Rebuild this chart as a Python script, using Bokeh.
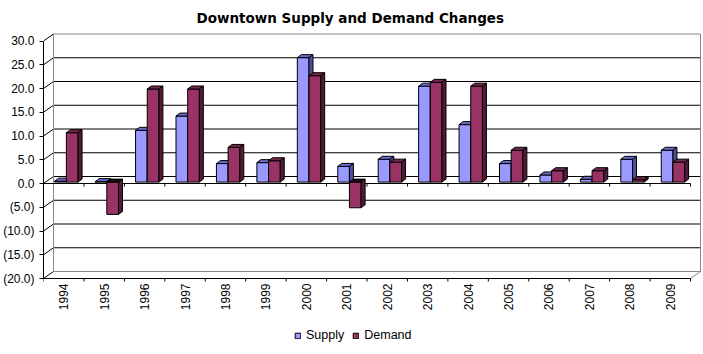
import math
from bokeh.plotting import figure
from bokeh.models import (FixedTicker, CustomJSTickFormatter, Range1d, Legend,
                          LegendItem, ColumnDataSource)
from bokeh.core.properties import value
from bokeh.embed import file_html
from bokeh.resources import INLINE

# ---------------- data ----------------
YEARS = ["1994", "1995", "1996", "1997", "1998", "1999", "2000", "2001",
         "2002", "2003", "2004", "2005", "2006", "2007", "2008", "2009"]
SUPPLY = [0.2, 0.1, 10.9, 13.9, 3.9, 4.1, 26.2, 3.3,
          4.8, 20.2, 12.1, 3.9, 1.5, 0.6, 4.8, 6.7]
DEMAND = [10.4, -6.8, 19.6, 19.6, 7.3, 4.5, 22.4, -5.4,
          4.2, 21.0, 20.2, 6.7, 2.4, 2.4, 0.5, 4.2]
Y_TICKS = [-20, -15, -10, -5, 0, 5, 10, 15, 20, 25, 30]
TITLE = "Downtown Supply and Demand Changes"

# ---------------- geometry (pixel-derived styling constants) ----------------
W, H = 703, 354
BORDER_L, BORDER_R, BORDER_T, BORDER_B = 42, 2, 32, 2
FRAME_W = W - BORDER_L - BORDER_R
FRAME_H = H - BORDER_T - BORDER_B
FLOOR_PX = 278 - BORDER_T          # pixel offset of the floor (-20) below frame top
PX_X = 40.5          # pixels per category
PX_Y = 4.75          # pixels per value unit
N = len(YEARS)
Y0, Y1 = -20, 30
X_END = FRAME_W / PX_X
Y_END = Y0 + FLOOR_PX / PX_Y
Y_START = Y_END - FRAME_H / PX_Y

WDX, WDY = 10 / PX_X, 7 / PX_Y      # depth of the back wall
BDX, BDY = 4 / PX_X, 3 / PX_Y       # depth of a bar
FDY = 1.4 / PX_Y                    # bar front-face base shift
BAR_W = 11.7 / PX_X
BAR_OFF = 11.2 / PX_X
TICK = 3 / PX_Y

SUP_COL = ("#9999FF", "#6B6BCF", "#4F4FA0")   # front, top, side
DEM_COL = ("#993366", "#75284F", "#521A37")
NEG_TOP = "#1E0A14"
font = "Liberation Sans"

p = figure(width=W, height=H, output_backend="svg", toolbar_location=None,
           tools="", x_range=Range1d(0, X_END),
           y_range=Range1d(Y_START, Y_END),
           min_border_left=BORDER_L, min_border_right=BORDER_R,
           min_border_top=BORDER_T, min_border_bottom=BORDER_B,
           title=TITLE)
p.outline_line_color = None
p.xgrid.visible = False
p.ygrid.visible = False
p.xaxis.visible = False
p.background_fill_color = "white"
p.border_fill_color = "white"

p.title.text_font = "DejaVu Sans"
p.title.text_font_size = "13.5px"
p.title.text_font_style = "bold"
p.title.text_color = "black"
p.title.align = "left"
p.title.offset = 153
p.title.standoff = 14

# ---------------- walls ----------------
grid_vals = [v for v in Y_TICKS if Y0 < v < Y1]
p.segment(x0=[WDX] * len(grid_vals), x1=[N + WDX] * len(grid_vals),
          y0=[v + WDY for v in grid_vals], y1=[v + WDY for v in grid_vals],
          line_color="black", line_width=1)
p.segment(x0=[0] * len(Y_TICKS), x1=[WDX] * len(Y_TICKS),
          y0=Y_TICKS, y1=[v + WDY for v in Y_TICKS],
          line_color="black", line_width=1)
gray = "#888888"
p.segment(x0=[WDX, WDX, WDX, N + WDX, N],
          x1=[N + WDX, N + WDX, WDX, N + WDX, N + WDX],
          y0=[Y1 + WDY, Y0 + WDY, Y0 + WDY, Y0 + WDY, Y0],
          y1=[Y1 + WDY, Y0 + WDY, Y1 + WDY, Y1 + WDY, Y0 + WDY],
          line_color=gray, line_width=1)

# zero line and floor line, each with category ticks
cats = list(range(N + 1))
for base in (0, Y0):
    p.segment(x0=[0], x1=[N], y0=[base], y1=[base],
              line_color="black", line_width=1)
    p.segment(x0=cats, x1=cats, y0=[base] * len(cats),
              y1=[base - TICK] * len(cats), line_color="black", line_width=1)

# category labels (rotated, reading upward)
p.text(x=[i + 0.5 for i in range(N)], y=[Y0 - 5 / PX_Y] * N, text=YEARS,
       angle=math.pi / 2, text_align="right", text_baseline="middle",
       text_font=value(font), text_font_size="12px", text_color="black")


# ---------------- 3D bars ----------------
def draw_bars(vals, off, cols):
    left = [i + off for i in range(N)]
    right = [l + BAR_W for l in left]
    bottom = [min(FDY, v + FDY) for v in vals]
    top = [max(FDY, v + FDY) for v in vals]
    top_cols = [cols[1] if v >= 0 else NEG_TOP for v in vals]
    src_top = ColumnDataSource(dict(
        xs=[[l, r, r + BDX, l + BDX] for l, r in zip(left, right)],
        ys=[[t, t, t + BDY, t + BDY] for t in top],
        c=top_cols))
    src_side = ColumnDataSource(dict(
        xs=[[r, r + BDX, r + BDX, r] for r in right],
        ys=[[b, b + BDY, t + BDY, t] for b, t in zip(bottom, top)]))
    front = p.quad(left=left, right=right, bottom=bottom, top=top,
                   fill_color=cols[0], line_color="black", line_width=1)
    p.patches(xs="xs", ys="ys", source=src_top, fill_color="c",
              line_color="black", line_width=1)
    p.patches(xs="xs", ys="ys", source=src_side, fill_color=cols[2],
              line_color="black", line_width=1)
    return front


r_sup = draw_bars(SUPPLY, BAR_OFF, SUP_COL)
r_dem = draw_bars(DEMAND, BAR_OFF + BAR_W, DEM_COL)

# ---------------- y axis ----------------
ya = p.yaxis[0]
ya.ticker = FixedTicker(ticks=Y_TICKS, minor_ticks=[])
ya.formatter = CustomJSTickFormatter(code="""
    return tick < 0 ? "(" + (-tick).toFixed(1) + ")" : tick.toFixed(1);
""")
ya.bounds = (Y0, Y1)
ya.major_tick_out = 4
ya.major_tick_in = 0
ya.minor_tick_line_color = None
ya.major_label_standoff = 5
ya.major_label_text_font = font
ya.major_label_text_font_size = "12px"
ya.major_label_text_color = "black"
ya.axis_line_color = "black"

# ---------------- legend ----------------
legend = Legend(items=[LegendItem(label="Supply", renderers=[r_sup]),
                       LegendItem(label="Demand", renderers=[r_dem])],
                orientation="horizontal", location=(251, 10),
                padding=0, margin=0, spacing=8, label_standoff=5,
                glyph_width=7, glyph_height=7, label_height=7,
                label_text_font=font, label_text_font_size="12.5px",
                label_text_color="black",
                border_line_color=None, background_fill_alpha=0)
p.add_layout(legend)

open("out.html", "w").write(file_html(p, INLINE))
